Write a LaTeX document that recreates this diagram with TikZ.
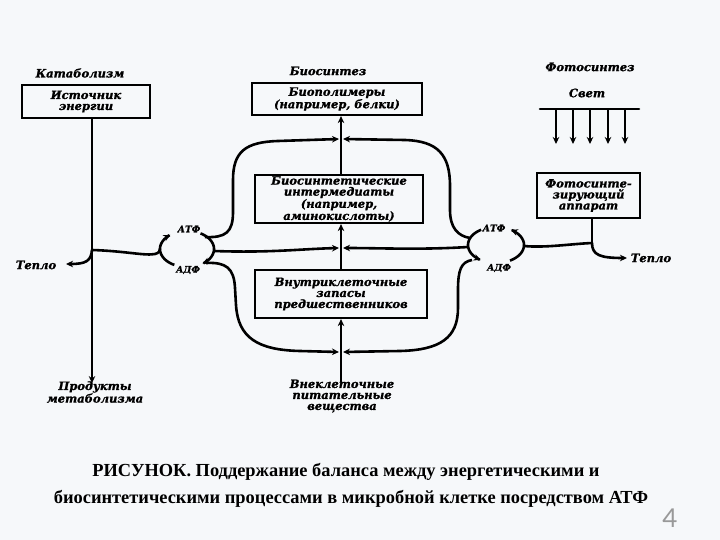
\documentclass[tikz,border=0pt]{standalone}
\usepackage{fontspec}
\setmainfont{Liberation Serif}
\newfontfamily\dg{DejaVu Serif}
\newfontfamily\pg{Lato}
\usetikzlibrary{arrows.meta}
\definecolor{bg}{RGB}{246,248,250}
\tikzset{
  ln/.style={line width=2.6pt, line cap=round},
  arr/.style={line width=2.6pt, -{Stealth[length=7pt,width=6.5pt]}},
  box/.style={draw, line width=2.2pt, inner sep=0pt, align=center,
    font=\dg\bfseries\itshape\addfontfeature{FakeBold=1.2}\fontsize{11.5}{11}\selectfont},
  lbl/.style={align=center, inner sep=0pt,
    font=\dg\bfseries\itshape\addfontfeature{FakeBold=1.2}\fontsize{11.5}{11}\selectfont},
  sml/.style={align=center, inner sep=0pt,
    font=\dg\bfseries\itshape\addfontfeature{FakeBold=1.2}\fontsize{9}{9}\selectfont},
  captxt/.style={inner sep=0pt, font=\bfseries\fontsize{18.4}{20}\selectfont},
}
\begin{document}
\begin{tikzpicture}[x=1pt,y=-1pt]
\fill[bg] (0,0) rectangle (720,540);
\useasboundingbox (0,0) rectangle (720,540);

% ---------- catabolism ----------
\node[lbl] (kat) at (80,73) {Катаболизм};
\node[box, minimum width=128pt, minimum height=33pt] (src) at (86,101.5) {Источник\\энергии};
\node[lbl] (prod) at (95,392) {Продукты\\метаболизма};
\node[lbl] (heatL) at (36,265) {Тепло};
\coordinate (v1) at (92,0);
\coordinate (j1) at (92,250);
\coordinate (tipHL) at (66,264);
\draw[arr] (src.south -| v1) -- ([yshift=-2pt]prod.north -| v1);
\draw[arr] (j1) .. controls (91,261) and (86,264) .. (tipHL);
\draw[ln] (j1) .. controls (125,251) and (145,256) .. (155,254) .. controls (159,253) and (160,251) .. (160,249);

% ---------- left ATP cycle ----------
\node[sml] (atpL) at (189,229) {АТФ};
\node[sml] (adpL) at (188,270) {АДФ};
\draw[arr] plot[domain=118:232, samples=40, smooth] ({187+27*cos(\x)},{249+18*sin(\x)});
\draw[arr] plot[domain=0:1, samples=40, smooth] ({187+27*cos(-60+115*\x)},{249+18*sin(-60+115*\x)});

% ---------- biosynthesis ----------
\node[lbl] (bios) at (328,71) {Биосинтез};
\node[box, minimum width=170pt, minimum height=32pt] (poly) at (337,99) {Биополимеры\\(например, белки)};
\node[box, minimum width=168pt, minimum height=48pt] (inter) at (339,199) {Биосинтетические\\интермедиаты\\(например,\\аминокислоты)};
\node[box, minimum width=172pt, minimum height=48pt] (pool) at (341,294) {Внутриклеточные\\запасы\\предшественников};
\node[lbl] (ext) at (342,396) {Внеклеточные\\питательные\\вещества};
\coordinate (v2) at (341,0);
\draw[arr] ([yshift=-3pt]ext.north -| v2) -- (pool.south -| v2);
\draw[arr] (pool.north -| v2) -- (inter.south -| v2);
\draw[arr] (inter.north -| v2) -- (poly.south -| v2);

% top loop
\draw[arr] (205,237) .. controls (226,238) and (233,232) .. (233,212) -- (233,180)
  .. controls (233,152) and (245,142) .. (278,141) -- (339,139);
\draw[arr] (470,238) .. controls (458,236) and (450,228) .. (450,210) -- (450,186)
  .. controls (450,155) and (438,141) .. (405,140) -- (343,139);
% middle line
\draw[arr] (214,251) .. controls (270,253) and (300,249) .. (339,248);
\draw[arr] (468,247) .. controls (420,250) and (380,248) .. (343,248);
% bottom loop
\draw[arr] (206,263) .. controls (226,262) and (234,268) .. (235,288) -- (236,305)
  .. controls (238,338) and (258,350) .. (300,351) -- (339,352);
\draw[arr] (472,260) .. controls (461,262) and (458,270) .. (458,290) -- (458,308)
  .. controls (458,338) and (440,350) .. (400,351) -- (343,352);

% ---------- right ATP cycle ----------
\node[sml] (atpR) at (494,228) {АТФ};
\node[sml] (adpR) at (499,268) {АДФ};
\draw[arr] plot[domain=0:1, samples=40, smooth] ({496+28*cos(60-118*\x)},{245+18*sin(60-118*\x)});
\draw[arr] plot[domain=0:1, samples=40, smooth] ({496+28*cos(238-115*\x)},{245+18*sin(238-115*\x)});

% ---------- photosynthesis ----------
\node[lbl] (phot) at (590,67) {Фотосинтез};
\node[lbl] (light) at (587,93) {Свет};
\node[box, minimum width=103pt, minimum height=45pt] (app) at (588.5,195.5) {Фотосинте-\\зирующий\\аппарат};
\node[lbl] (heatR) at (651,258) {Тепло};
\coordinate (bar1) at (540,109);
\coordinate (bar2) at (639,109);
\draw[ln] (bar1) -- (bar2);
\foreach \xx in {556,573,590,608,625} \draw[arr] (\xx,109) -- (\xx,144);
\coordinate (jr) at (592,243);
\coordinate (tipHR) at (627,258);
\draw[ln] (app.south -| jr) -- (jr);
\draw[ln] (524,246) .. controls (545,248) and (570,244) .. (jr);
\draw[arr] (jr) .. controls (592,255) and (600,258) .. (tipHR);

% ---------- caption ----------
\node[captxt] (c1) at (346,472) {РИСУНОК. Поддержание баланса между энергетическими и};
\node[captxt] (c2) at (351,499) {биосинтетическими процессами в микробной клетке посредством АТФ};
\node[inner sep=0pt, text=black!40, font=\pg\fontsize{26}{26}\selectfont] (pnum) at (670,518) {4};
\end{tikzpicture}
\end{document}
